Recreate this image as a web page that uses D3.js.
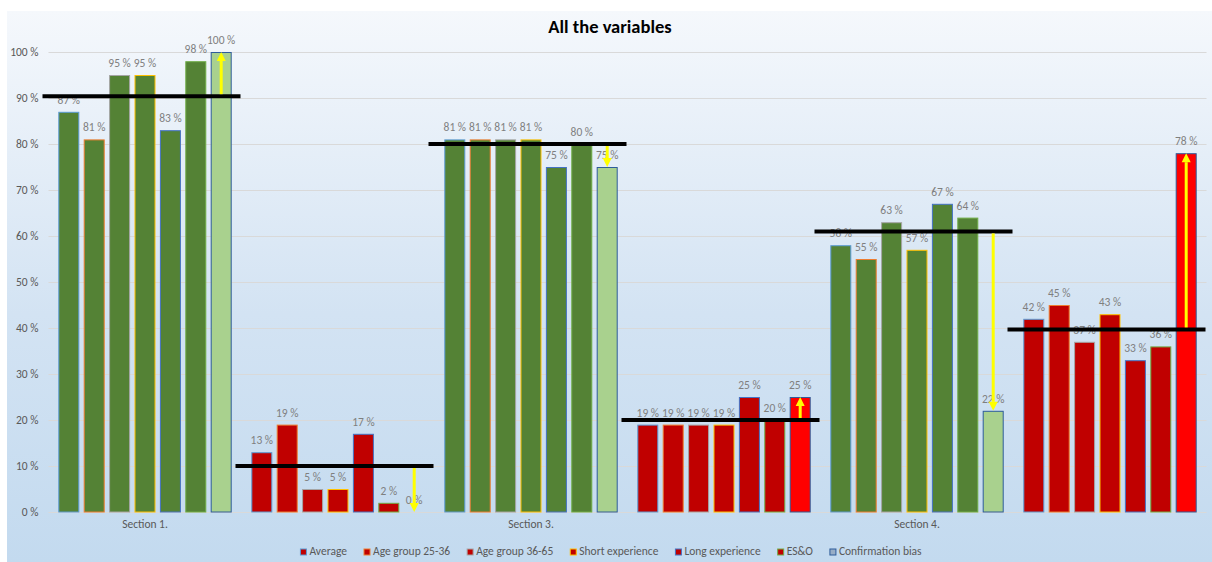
<!DOCTYPE html>
<html>
<head>
<meta charset="utf-8">
<script src="https://cdn.jsdelivr.net/npm/d3@7"></script>
<style>
  html, body { margin: 0; padding: 0; background: #ffffff; }
  svg { display: block; }
  text { font-family: Carlito, "Liberation Sans", Arial, sans-serif; }
</style>
</head>
<body>
<svg id="chart" width="1212" height="562"></svg>
<script>
// Category labels along the x axis (only every other group is named)
const categories = ["Section 1.", "", "Section 3.", "", "Section 4.", ""];

// Series names, in legend order
const seriesNames = ["Average", "Age group 25-36", "Age group 36-65", "Short experience",
                     "Long experience", "ES&O", "Confirmation bias"];

// Series values (%) per category
const average          = [87, 13, 81, 19, 58, 42];
const ageGroup2536     = [81, 19, 81, 19, 55, 45];
const ageGroup3665     = [95,  5, 81, 19, 63, 37];
const shortExperience  = [95,  5, 81, 19, 57, 43];
const longExperience   = [83, 17, 75, 25, 67, 33];
const esAndO           = [98,  2, 80, 20, 64, 36];
const confirmationBias = [100, 0, 75, 25, 22, 78];

// Reference level drawn across each group (%)
const groupLevels = [90.4, 10, 80, 20, 61, 39.7];

// Y axis tick values (%)
const yTicks = [0, 10, 20, 30, 40, 50, 60, 70, 80, 90, 100];

const seriesValues = [average, ageGroup2536, ageGroup3665, shortExperience,
                      longExperience, esAndO, confirmationBias];

// Styling
const borderColors = ["#5B9BD5", "#ED7D31", "#A5A5A5", "#FFC000", "#4472C4", "#70AD47", "#2E5C9A"];
const groupFill = i => (i % 2 === 0 ? "#548235" : "#C00000");
const biasFill  = i => (i % 2 === 0 ? "#A9D18E" : "#FF0000");

const svg = d3.select("#chart");
const W = 1212, H = 562;

// Background gradient panel
const defs = svg.append("defs");
const grad = defs.append("linearGradient").attr("id", "bg").attr("x1", 0).attr("y1", 0).attr("x2", 0).attr("y2", 1);
grad.append("stop").attr("offset", "0%").attr("stop-color", "#F5F8FC");
grad.append("stop").attr("offset", "55%").attr("stop-color", "#D3E3F3");
grad.append("stop").attr("offset", "100%").attr("stop-color", "#C3DAEF");
svg.append("rect").attr("x", 7).attr("y", 11).attr("width", W - 7).attr("height", H - 11).attr("fill", "url(#bg)");

const plot = { left: 48.5, right: 1206.5, top: 52, bottom: 512 };

const y = d3.scaleLinear().domain([0, 100]).range([plot.bottom, plot.top]);
const x = d3.scaleBand().domain(d3.range(categories.length)).range([plot.left, plot.right]).paddingInner(0).paddingOuter(0);
const xs = d3.scaleBand().domain(d3.range(seriesNames.length)).range([0, x.bandwidth()])
  .paddingInner(0.173).paddingOuter(0.386);

// Title
svg.append("text").attr("x", 610).attr("y", 33).attr("text-anchor", "middle")
  .attr("font-size", 18.5).attr("font-weight", "bold").attr("fill", "#000")
  .text("All the variables");

// Gridlines
svg.append("g").selectAll("line").data(yTicks).join("line")
  .attr("x1", plot.left).attr("x2", plot.right)
  .attr("y1", d => Math.round(y(d)) + 0.5).attr("y2", d => Math.round(y(d)) + 0.5)
  .attr("stroke", "#D9D9D9").attr("stroke-width", 1);

// Y axis labels
const yAxis = d3.axisLeft(y).tickValues(yTicks).tickSize(0).tickPadding(10).tickFormat(d => d + " %");
const gy = svg.append("g").attr("transform", `translate(${plot.left},0)`).call(yAxis);
gy.select(".domain").remove();
gy.selectAll("text").attr("font-size", 11.5).attr("fill", "#595959").attr("font-family", null);

// X axis labels
const xAxis = d3.axisBottom(x).tickSize(0).tickPadding(8).tickFormat(i => categories[i]);
const gx = svg.append("g").attr("transform", `translate(0,${plot.bottom})`).call(xAxis);
gx.select(".domain").remove();
gx.selectAll("text").attr("font-size", 11.5).attr("fill", "#595959").attr("font-family", null);

// Bars
const barData = [];
seriesValues.forEach((vals, s) => vals.forEach((v, c) => barData.push({ s, c, v })));

svg.append("g").selectAll("rect").data(barData).join("rect")
  .attr("x", d => x(d.c) + xs(d.s) + 0.5)
  .attr("y", d => y(d.v) + 0.5)
  .attr("width", xs.bandwidth() - 1)
  .attr("height", d => Math.max(0, y(0) - y(d.v) - 0.5))
  .attr("fill", d => (d.s === seriesNames.length - 1 ? biasFill(d.c) : groupFill(d.c)))
  .attr("stroke", d => borderColors[d.s])
  .attr("stroke-width", d => (d.v === 0 ? 0 : 1));

// Value labels
svg.append("g").selectAll("text").data(barData).join("text")
  .attr("x", d => x(d.c) + xs(d.s) + xs.bandwidth() / 2)
  .attr("y", d => y(d.v) - 8)
  .attr("text-anchor", "middle")
  .attr("font-size", 11.5)
  .attr("fill", "#7F7F7F")
  .text(d => d.v + " %");

// Group reference lines
svg.append("g").selectAll("line").data(groupLevels).join("line")
  .attr("x1", (d, i) => x(i) - 6).attr("x2", (d, i) => x(i) + x.bandwidth() - 1)
  .attr("y1", d => y(d)).attr("y2", d => y(d))
  .attr("stroke", "#000").attr("stroke-width", 4);

// Arrows from each reference level to the confirmation-bias value
const last = seriesNames.length - 1;
const arrows = svg.append("g");
groupLevels.forEach((lvl, c) => {
  const cx = x(c) + xs(last) + xs.bandwidth() / 2;
  const y0 = y(lvl);
  const y1 = y(confirmationBias[c]);
  const dir = y1 < y0 ? -1 : 1;
  const head = 9;
  arrows.append("line")
    .attr("x1", cx).attr("x2", cx)
    .attr("y1", y0 + dir * 2).attr("y2", y1 - dir * head)
    .attr("stroke", "#FFFF00").attr("stroke-width", 3);
  arrows.append("path")
    .attr("d", `M${cx - 4.5},${y1 - dir * head} L${cx + 4.5},${y1 - dir * head} L${cx},${y1} Z`)
    .attr("fill", "#FFFF00");
});

// Legend
const legend = svg.append("g");
const items = legend.selectAll("g").data(seriesNames).join("g");
items.append("rect")
  .attr("width", 6).attr("height", 6)
  .attr("y", -6)
  .attr("fill", (d, i) => (i === last ? "#97ADC6" : "#C00000"))
  .attr("stroke", (d, i) => borderColors[i]).attr("stroke-width", 1);
items.append("text")
  .attr("x", 9).attr("y", 0)
  .attr("font-size", 11.5).attr("fill", "#595959")
  .text(d => d);
const widths = [];
items.each(function () {
  widths.push(9 + this.querySelector("text").getComputedTextLength());
});
const gap = 17;
const total = d3.sum(widths) + gap * (widths.length - 1);
const start = 611 - total / 2;
items.attr("transform", (d, i) => {
  const tx = start + d3.sum(widths.slice(0, i)) + gap * i;
  return `translate(${tx},555)`;
});
</script>
</body>
</html>
